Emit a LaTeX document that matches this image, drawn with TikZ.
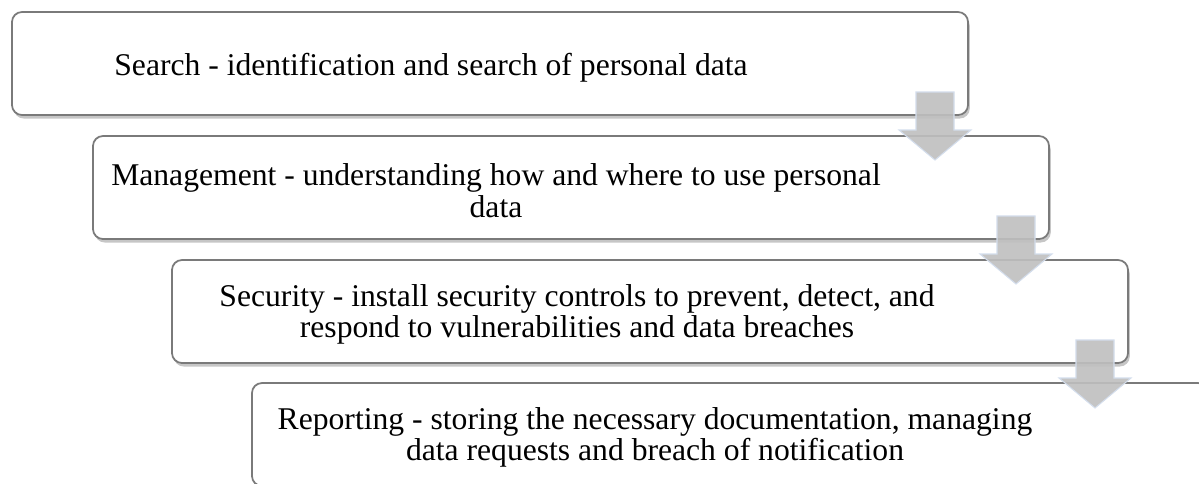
\documentclass[tikz,border=0pt]{standalone}
\usepackage{fontspec}
\setmainfont{Liberation Serif}
\usetikzlibrary{shadows}
\definecolor{boxline}{HTML}{7A7A7A}
\definecolor{arrowfill}{HTML}{BFBFBF}
\definecolor{arrowline}{HTML}{D3DDEC}

\begin{document}
\begin{tikzpicture}[x=0.2mm,y=0.2mm,
  phase/.style={draw=boxline, line width=1pt, fill=white, rounded corners=2mm,
    minimum width=19.12cm, minimum height=2.06cm, inner sep=0pt, outer sep=0pt,
    drop shadow={shadow xshift=1pt, shadow yshift=-2pt, opacity=0.45}},
  phasetext/.style={align=center, inner sep=0pt, font=\fontsize{18}{17.9}\selectfont},
  downarrow/.style={draw=arrowline, line width=0.6pt, fill=arrowfill, fill opacity=0.9}]
\clip (0,0) rectangle (1199,-484);
\node[phase] (search) at (490,-63.5) {};
\node[phase] (manage) at (571,-187.5) {};
\node[phase] (secure) at (650,-311.5) {};
\node[phase] (report) at (730,-434.5) {};
\node[phasetext] (search-txt) at ([shift={(-59,-4)}]search.center)
  {Search - identification and search of personal data};
\node[phasetext] (manage-txt) at ([shift={(-75,-3)}]manage.center)
  {Management - understanding how and where to use personal\\data};
\node[phasetext] (secure-txt) at ([shift={(-73,-3)}]secure.center)
  {Security - install security controls to prevent, detect, and\\respond to vulnerabilities and data breaches};
\node[phasetext] (report-txt) at ([shift={(-75,-3)}]report.center)
  {Reporting - storing the necessary documentation, managing\\data requests and breach of notification};
\foreach \b in {search,manage,secure}
  \draw[downarrow] ([shift={(-52,23)}]\b.south east) -- ++(38,0) -- ++(0,-38) -- ++(17,0)
    -- ++(-36,-30) -- ++(-36,30) -- ++(17,0) -- cycle;
\end{tikzpicture}
\end{document}
